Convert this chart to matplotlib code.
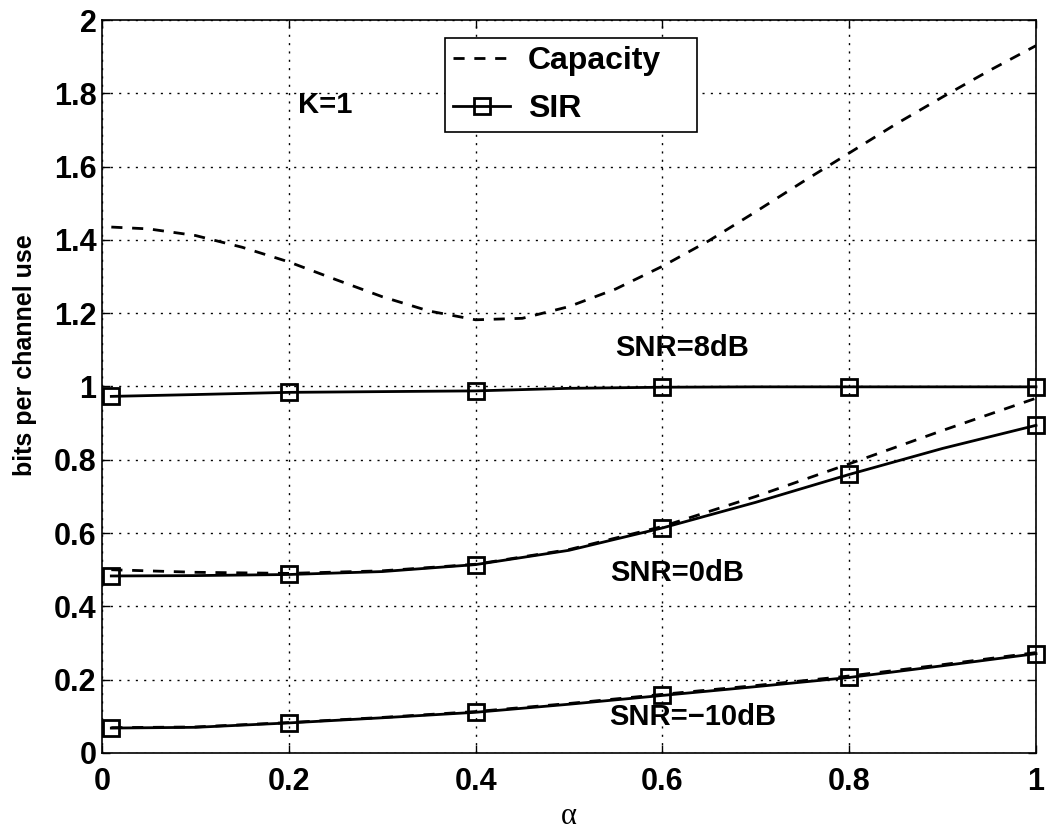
import matplotlib
matplotlib.use("Agg")
from matplotlib import pyplot as plt
from matplotlib.lines import Line2D
from matplotlib.ticker import FormatStrFormatter

# alpha grid used for the SNR=8dB capacity curve
alpha_fine = [0.01, 0.05, 0.1, 0.15, 0.2, 0.25, 0.3, 0.35, 0.4, 0.45, 0.5,
              0.55, 0.6, 0.65, 0.7, 0.75, 0.8, 0.85, 0.9, 0.95, 1.0]
cap_8db = [1.435, 1.430, 1.412, 1.380, 1.340, 1.292, 1.245, 1.206, 1.182, 1.186, 1.218,
           1.266, 1.328, 1.398, 1.477, 1.558, 1.637, 1.716, 1.790, 1.862, 1.930]

# alpha grid for the other curves (markers every 0.2)
alpha = [0.01, 0.1, 0.2, 0.3, 0.4, 0.5, 0.6, 0.7, 0.8, 0.9, 1.0]
sir_8db = [0.973, 0.978, 0.984, 0.986, 0.988, 0.995, 0.998, 0.999, 0.999, 0.999, 0.999]
cap_0db = [0.500, 0.493, 0.490, 0.497, 0.515, 0.555, 0.618, 0.700, 0.789, 0.880, 0.968]
sir_0db = [0.483, 0.484, 0.487, 0.495, 0.514, 0.553, 0.614, 0.684, 0.760, 0.831, 0.894]
cap_m10db = [0.069, 0.071, 0.083, 0.097, 0.113, 0.135, 0.160, 0.184, 0.210, 0.241, 0.274]
sir_m10db = [0.068, 0.070, 0.082, 0.096, 0.111, 0.133, 0.157, 0.181, 0.206, 0.238, 0.271]

x_ticks = [0, 0.2, 0.4, 0.6, 0.8, 1]
y_ticks = [0, 0.2, 0.4, 0.6, 0.8, 1, 1.2, 1.4, 1.6, 1.8, 2]

plt.rcParams['font.family'] = ['Liberation Sans', 'DejaVu Sans']
plt.rcParams['font.weight'] = 'bold'

fig = plt.figure(figsize=(10.47, 8.3), dpi=100)
ax = fig.add_axes([0.0974, 0.0928, 0.8921, 0.8831])

dash = (4, 3.5)
lw = 2
mk = dict(marker='s', markersize=11, markeredgewidth=2, markerfacecolor='none',
          markeredgecolor='k', markevery=2)

for cap in [cap_0db, cap_m10db]:
    ax.plot(alpha, cap, color='k', lw=lw, dashes=dash)
ax.plot(alpha_fine, cap_8db, color='k', lw=lw, dashes=dash)

for sir in [sir_8db, sir_0db, sir_m10db]:
    ax.plot(alpha, sir, color='k', lw=lw, clip_on=False, **mk)

ax.set_xlim(0, 1)
ax.set_ylim(0, 2)
ax.set_xticks(x_ticks)
ax.set_yticks(y_ticks)
ax.xaxis.set_major_formatter(FormatStrFormatter('%g'))
ax.yaxis.set_major_formatter(FormatStrFormatter('%g'))
ax.tick_params(direction='in', length=6, width=1, top=True, right=True,
               labelsize=22, colors='k')
ax.tick_params(axis='x', pad=10)
ax.tick_params(axis='y', pad=4)
for s in ax.spines.values():
    s.set_linewidth(1.2)
ax.grid(True, color='k', linestyle=(0, (1.5, 4.5)), linewidth=1)
ax.set_axisbelow(True)

ax.set_ylabel('bits per channel use', fontsize=18, fontweight='bold')
ax.yaxis.set_label_coords(-0.0696, 0.543)
ax.set_xlabel('α', fontsize=22, fontweight='normal', family='Liberation Serif', labelpad=4)

ax.text(0.21, 1.768, 'K=1', fontsize=21, ha='left', va='center')
ax.text(0.549, 1.105, 'SNR=8dB', fontsize=21, ha='left', va='center')
ax.text(0.544, 0.491, 'SNR=0dB', fontsize=21, ha='left', va='center')
ax.text(0.543, 0.098, 'SNR=\u221210dB', fontsize=21, ha='left', va='center')

h_cap = Line2D([], [], color='k', lw=lw, dashes=dash)
h_sir = Line2D([], [], color='k', lw=lw, marker='s', markersize=11, markeredgewidth=2,
               markerfacecolor='none', markeredgecolor='k')
leg = ax.legend([h_cap, h_sir], ['Capacity', 'SIR'], loc='upper left',
                bbox_to_anchor=(0.367, 0.858, 0.27, 0.117), mode='expand',
                borderaxespad=0, fontsize=23,
                handlelength=1.8, handletextpad=0.56, labelspacing=0.55,
                borderpad=0.25, fancybox=False, framealpha=1, edgecolor='k',
                numpoints=1)
leg.get_frame().set_linewidth(1.2)

fig.savefig('out.png', dpi=100)
